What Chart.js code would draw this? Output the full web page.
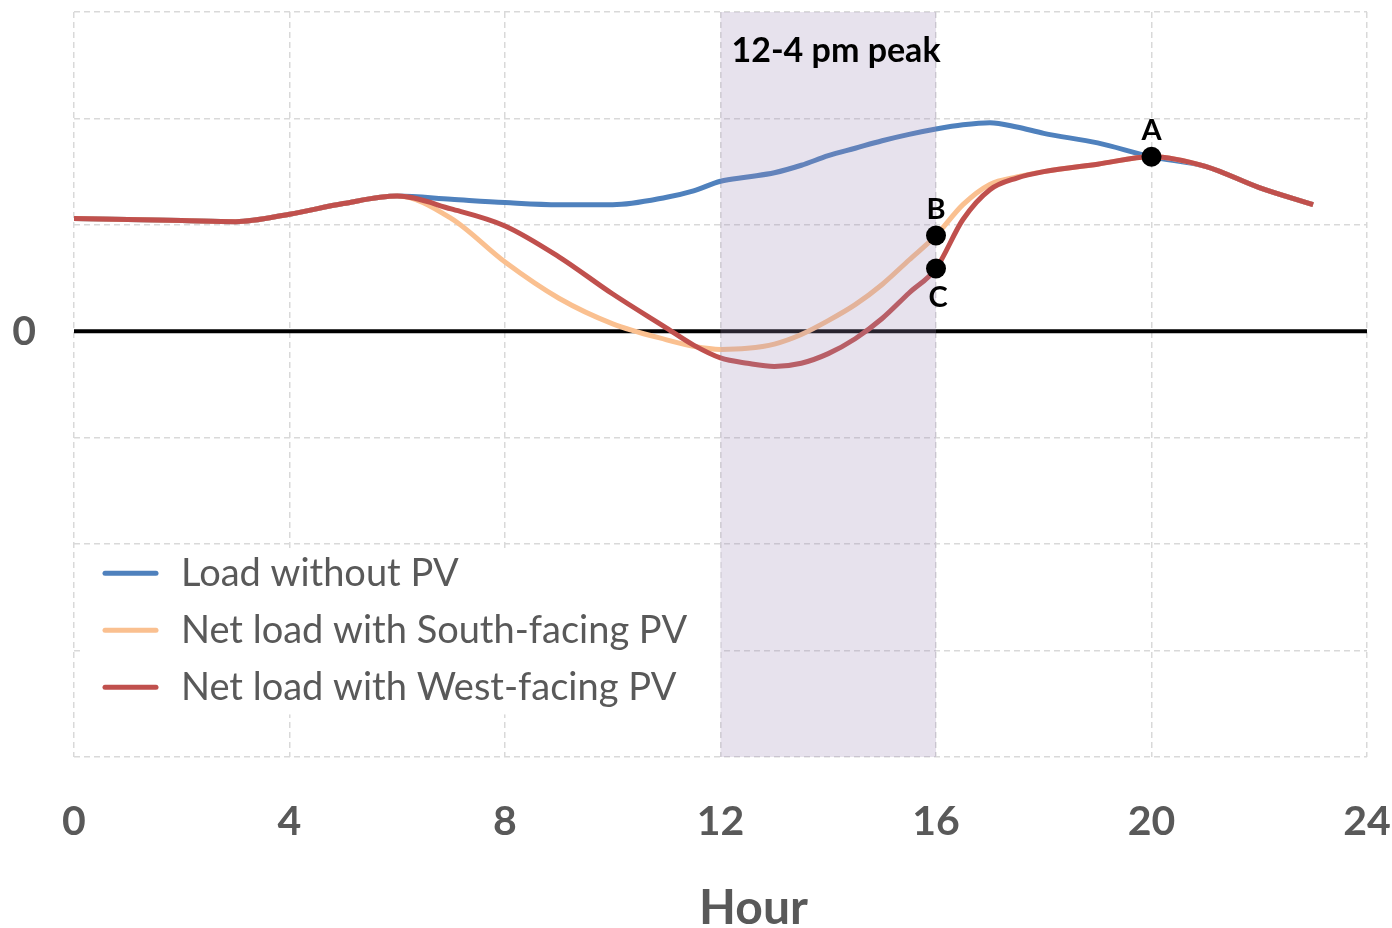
<!DOCTYPE html>
<html>
<head>
<meta charset="utf-8">
<script src="https://cdn.jsdelivr.net/npm/chart.js@4.4.1/dist/chart.umd.min.js"></script>
<style>
  html, body { margin: 0; padding: 0; background: #ffffff; }
  #wrap { width: 1392px; height: 928px; position: relative; }
</style>
</head>
<body>
<div id="wrap"><canvas id="c" width="1392" height="928"></canvas></div>
<script>
// ---------- data ----------
const hours = [0, 1, 2, 3, 4, 5, 6, 7, 8, 9, 10, 11, 11.5, 12, 12.5, 13, 13.5, 14, 14.5, 15, 15.5, 16, 16.5, 17, 17.5, 18, 19, 20, 21, 22, 23];
const loadWithoutPV = [1.06, 1.05, 1.04, 1.03, 1.10, 1.20, 1.27, 1.24, 1.21, 1.19, 1.19, 1.26, 1.32, 1.41, 1.45, 1.49, 1.56, 1.65, 1.72, 1.79, 1.85, 1.90, 1.94, 1.96, 1.92, 1.86, 1.77, 1.64, 1.55, 1.35, 1.19];
const netSouthPV   = [1.06, 1.05, 1.04, 1.03, 1.10, 1.20, 1.27, 1.06, 0.65, 0.31, 0.07, -0.08, -0.14, -0.17, -0.16, -0.12, -0.03, 0.10, 0.25, 0.44, 0.67, 0.90, 1.19, 1.38, 1.45, 1.50, 1.57, 1.64, 1.55, 1.35, 1.19];
const netWestPV    = [1.06, 1.05, 1.04, 1.03, 1.10, 1.20, 1.27, 1.15, 0.99, 0.70, 0.35, 0.03, -0.13, -0.25, -0.30, -0.33, -0.30, -0.21, -0.07, 0.12, 0.36, 0.59, 1.05, 1.33, 1.44, 1.50, 1.57, 1.64, 1.55, 1.35, 1.19];
const seriesLabels = ['Load without PV', 'Net load with South-facing PV', 'Net load with West-facing PV'];
const seriesColors = ['#4f81bd', '#fac090', '#c0504d'];
const markerHours  = [20, 16, 16];
const markerValues = [1.64, 0.90, 0.59];
const markerLabels = ['A', 'B', 'C'];
const peakStart = 12, peakEnd = 16;
const peakLabel = '12-4 pm peak';
const xTicks = [0, 4, 8, 12, 16, 20, 24];
const xTitle = 'Hour';

const FONT = "Lato, 'Open Sans', sans-serif";
const toXY = (vals) => hours.map((h, i) => ({ x: h, y: vals[i] }));

const plugin = {
  id: 'decor',
  beforeDatasetsDraw(chart) {
    const { ctx, chartArea: a, scales: { x, y } } = chart;
    // zero line
    ctx.save();
    ctx.strokeStyle = '#000';
    ctx.lineWidth = 4;
    const y0 = y.getPixelForValue(0);
    ctx.beginPath(); ctx.moveTo(a.left, y0); ctx.lineTo(a.right, y0); ctx.stroke();
    ctx.restore();
    // legend
    ctx.save();
    const lx0 = a.left + 6, ly0 = y.getPixelForValue(-2) + 4;
    const lx1 = x.getPixelForValue(peakStart), ly1 = y.getPixelForValue(-3.6);
    ctx.fillStyle = '#fff';
    ctx.fillRect(lx0, ly0, lx1 - lx0, ly1 - ly0);
    ctx.font = '38px ' + FONT;
    ctx.textBaseline = 'middle';
    ctx.lineCap = 'round';
    seriesLabels.forEach((lab, i) => {
      const cy = ly0 + 25 + i * 57;
      ctx.strokeStyle = seriesColors[i];
      ctx.lineWidth = 5;
      ctx.beginPath(); ctx.moveTo(a.left + 31, cy); ctx.lineTo(a.left + 82, cy); ctx.stroke();
      ctx.fillStyle = '#595959';
      ctx.fillText(lab, a.left + 107, cy + 1);
    });
    ctx.restore();
  },
  afterDatasetDraw(chart, args) {
    if (chart.data.datasets[args.index].label !== seriesLabels[2]) return;
    const { ctx, chartArea: a, scales: { x } } = chart;
    ctx.save();
    ctx.fillStyle = 'rgba(160,140,185,0.25)';
    const px0 = x.getPixelForValue(peakStart), px1 = x.getPixelForValue(peakEnd);
    ctx.fillRect(px0, a.top, px1 - px0, a.bottom - a.top);
    ctx.restore();
  },
  afterDatasetsDraw(chart) {
    const { ctx, chartArea: a, scales: { x, y } } = chart;
    ctx.save();
    ctx.fillStyle = '#000';
    ctx.font = 'bold 34px ' + FONT;
    ctx.textBaseline = 'middle';
    ctx.textAlign = 'left';
    ctx.fillText(peakLabel, x.getPixelForValue(peakStart) + 11, a.top + 39);
    ctx.font = 'bold 29px ' + FONT;
    ctx.textAlign = 'center';
    markerLabels.forEach((lab, i) => {
      const px = x.getPixelForValue(markerHours[i]);
      const py = y.getPixelForValue(markerValues[i]);
      const below = lab === 'C';
      ctx.fillText(lab, px + (below ? 2 : 0), below ? py + 29 : py - 26);
    });
    // x-axis title
    ctx.fillStyle = '#595959';
    ctx.font = 'bold 48px ' + FONT;
    ctx.textAlign = 'center';
    ctx.textBaseline = 'alphabetic';
    ctx.fillText(xTitle, (a.left + a.right) / 2 + 33, chart.height - 4);
    ctx.restore();
  }
};

new Chart(document.getElementById('c'), {
  type: 'line',
  data: {
    datasets: [
      { label: 'markers', data: markerHours.map((h, i) => ({ x: h, y: markerValues[i] })), showLine: false,
        pointRadius: 10, pointBackgroundColor: '#000', pointBorderColor: '#000', pointBorderWidth: 0, order: 0 },
      { label: seriesLabels[2], data: toXY(netWestPV), borderColor: seriesColors[2], borderWidth: 5, pointRadius: 0,
        cubicInterpolationMode: 'monotone', fill: false, order: 1 },
      { label: seriesLabels[1], data: toXY(netSouthPV), borderColor: seriesColors[1], borderWidth: 5, pointRadius: 0,
        cubicInterpolationMode: 'monotone', fill: false, order: 2 },
      { label: seriesLabels[0], data: toXY(loadWithoutPV), borderColor: seriesColors[0], borderWidth: 5, pointRadius: 0,
        cubicInterpolationMode: 'monotone', fill: false, order: 3 }
    ]
  },
  options: {
    responsive: false,
    animation: false,
    layout: { padding: { top: 12, right: 25, left: 0, bottom: 0 } },
    plugins: { legend: { display: false }, tooltip: { enabled: false } },
    scales: {
      x: {
        type: 'linear', min: 0, max: 24,
        afterBuildTicks: (s) => { s.ticks = xTicks.map(v => ({ value: v })); },
        afterFit: (s) => { s.height = 171; s.paddingLeft = 0; s.paddingRight = 0; },
        grid: { color: '#d9d9d9', lineWidth: 1.5, drawTicks: false },
        border: { display: false, dash: [6, 4] },
        ticks: { color: '#595959', font: { family: FONT, size: 41, weight: 'bold' }, padding: 40, maxRotation: 0 },
        title: { display: false, text: xTitle }
      },
      y: {
        min: -4, max: 3,
        ticks: { stepSize: 1, color: '#595959', font: { family: FONT, size: 41, weight: 'bold' }, padding: 38,
          callback: (v) => v === 0 ? '0' : '' },
        afterFit: (s) => { s.width = 74; s.paddingTop = 0; s.paddingBottom = 0; },
        grid: { color: '#d9d9d9', lineWidth: 1.5, drawTicks: false },
        border: { display: false, dash: [6, 4] }
      }
    }
  },
  plugins: [plugin]
});
</script>
</body>
</html>
